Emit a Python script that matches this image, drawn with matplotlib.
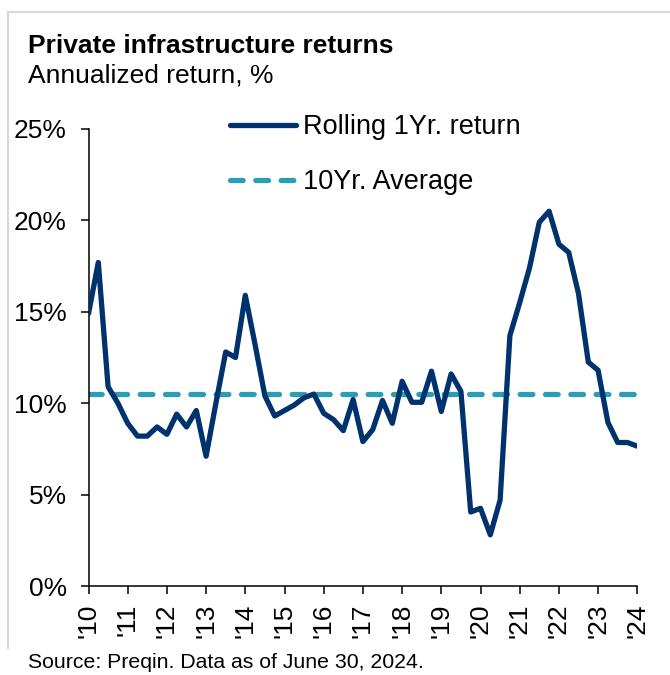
import numpy as np
import matplotlib.pyplot as plt
from matplotlib.lines import Line2D

plt.rcParams['font.family'] = ['Liberation Sans', 'DejaVu Sans']

# Quarterly rolling 1-year return, 2010 Q1 onwards (%)
rolling_1yr = [
    14.9, 17.7, 10.9, 10.0, 8.9, 8.2, 8.2, 8.7,
    8.3, 9.4, 8.7, 9.6, 7.1, 10.0, 12.8, 12.5,
    15.9, 13.2, 10.4, 9.3, 9.6, 9.9, 10.3, 10.5,
    9.45, 9.1, 8.5, 10.2, 7.9, 8.55, 10.15, 8.9,
    11.2, 10.05, 10.05, 11.75, 9.55, 11.6, 10.65, 4.05,
    4.25, 2.8, 4.7, 13.7, 15.5, 17.4, 19.9, 20.5,
    18.7, 18.25, 16.0, 12.25, 11.8, 8.95, 7.85, 7.85,
    7.65,
]
ten_yr_avg = 10.5
tick_years = list(range(2010, 2025))
tick_labels = ["'10", "'11", "'12", "'13", "'14", "'15", "'16", "'17",
               "'18", "'19", "'20", "'21", "'22", "'23", "'24"]
y_ticks = [0, 5, 10, 15, 20, 25]

NAVY = '#00336E'
TEAL = '#2B9EB5'

W, H = 670, 675
fig = plt.figure(figsize=(W / 100, H / 100), dpi=100)
ax = fig.add_axes([88.5 / W, 1 - 586 / H, (637.3 - 88.5) / W, (586 - 129) / H])

x = 2010 + np.arange(len(rolling_1yr)) / 4

ax.plot(x, rolling_1yr, color=NAVY, lw=3.8, solid_capstyle='round',
        solid_joinstyle='round', label='Rolling 1Yr. return', zorder=3)
ax.plot(x, [ten_yr_avg] * len(x), color=TEAL, lw=3.8, ls=(0, (2.4, 2.4)),
        dash_capstyle='round', label='10Yr. Average', zorder=2)

ax.set_xlim(2010, 2024)
ax.set_ylim(0, 25)
ax.set_xticks(tick_years)
ax.set_xticklabels(tick_labels, rotation=90, fontsize=19)
ax.set_yticks(y_ticks)
ax.set_yticklabels([f'{v}%' for v in y_ticks], fontsize=19)
ax.tick_params(axis='both', direction='out', length=5.5, width=1.1, color='black')
ax.tick_params(axis='y', pad=10)
ax.tick_params(axis='x', pad=7)

for side in ['top', 'right']:
    ax.spines[side].set_visible(False)
for side in ['left', 'bottom']:
    ax.spines[side].set_linewidth(1.1)
    ax.spines[side].set_color('black')

leg = ax.legend(loc='upper left', bbox_to_anchor=(230 / W, 1 - 114 / H),
                bbox_transform=fig.transFigure, frameon=False, fontsize=19.5,
                handlelength=2.45, handletextpad=0.25, labelspacing=1.08,
                borderpad=0, borderaxespad=0)

fig.text(28 / W, 1 - 46 / H, 'Private infrastructure returns', fontsize=19,
         fontweight='bold', va='center', ha='left')
fig.text(28 / W, 1 - 76 / H, 'Annualized return, %', fontsize=19,
         va='center', ha='left')
fig.text(28 / W, 1 - 663 / H, 'Source: Preqin. Data as of June 30, 2024.',
         fontsize=15.3, va='center', ha='left')

# light panel border on the left and top
fig.add_artist(Line2D([8 / W, 8 / W], [1 - 12 / H, 1 - 648 / H],
                      color='#D9D9D9', lw=1.5, transform=fig.transFigure))
fig.add_artist(Line2D([8 / W, 1], [1 - 12 / H, 1 - 12 / H],
                      color='#D9D9D9', lw=1.5, transform=fig.transFigure))

fig.savefig('out.png', dpi=100)
